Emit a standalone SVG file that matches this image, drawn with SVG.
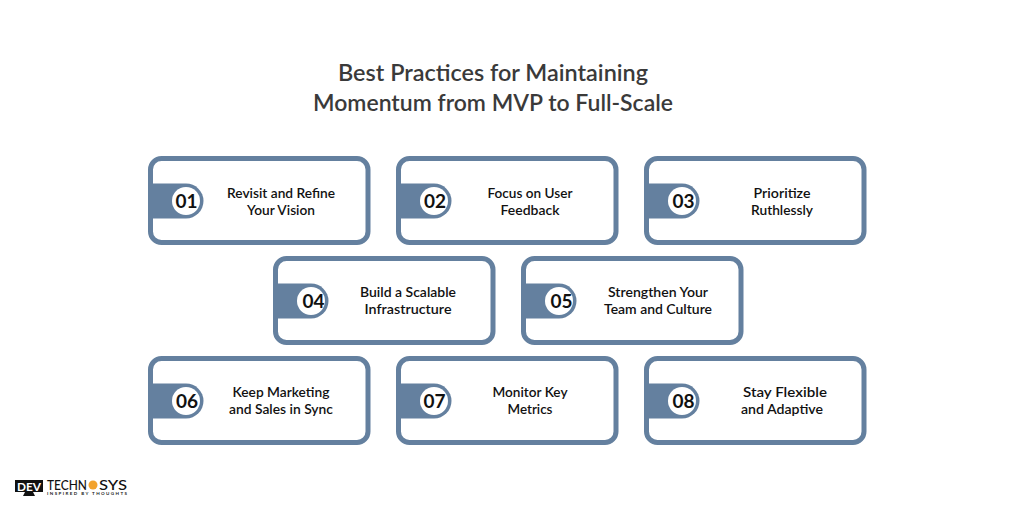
<svg xmlns="http://www.w3.org/2000/svg" width="1014" height="507" viewBox="0 0 1014 507">
<style>
text{font-family:"Lato","Liberation Sans",sans-serif}
.title{font-size:23.5px;font-weight:600;fill:#3a3a3a;text-anchor:middle}
.lab{font-size:13.5px;font-weight:600;fill:#111;text-anchor:middle}
.num{font-size:19px;font-weight:700;fill:#111;text-anchor:middle}
.box{fill:#fff;stroke:#64809f;stroke-width:5}
.tab{fill:#64809f}
.hole{fill:#fff}
</style>
<defs>
<g id="card">
<rect class="box" x="2.500" y="2.500" width="217.500" height="84" rx="11"/>
<path class="tab" d="M2 27.500H38a17.500 17.500 0 0 1 0 35H2Z"/>
<circle class="hole" cx="38" cy="45" r="14"/>
</g>
</defs>
<rect width="1014" height="507" fill="#fff"/>
<text class="title" x="493" y="81" textLength="310" lengthAdjust="spacingAndGlyphs">Best Practices for Maintaining</text>
<text class="title" x="493" y="111" textLength="360" lengthAdjust="spacingAndGlyphs">Momentum from MVP to Full-Scale</text>
<g id="connectors"/>
<g id="n1"><use href="#card" x="148" y="156"/><text class="num" x="186.500" y="208">01</text><text class="lab" x="281" y="198" textLength="108" lengthAdjust="spacingAndGlyphs">Revisit and Refine</text><text class="lab" x="281" y="215" textLength="68" lengthAdjust="spacingAndGlyphs">Your Vision</text></g>
<g id="n2"><use href="#card" x="396" y="156"/><text class="num" x="435" y="208">02</text><text class="lab" x="530" y="198" textLength="85" lengthAdjust="spacingAndGlyphs">Focus on User</text><text class="lab" x="530" y="215" textLength="59" lengthAdjust="spacingAndGlyphs">Feedback</text></g>
<g id="n3"><use href="#card" x="644" y="156"/><text class="num" x="683.500" y="208">03</text><text class="lab" x="782" y="198" textLength="57" lengthAdjust="spacingAndGlyphs">Prioritize</text><text class="lab" x="782" y="215" textLength="62" lengthAdjust="spacingAndGlyphs">Ruthlessly</text></g>
<g id="n4"><use href="#card" x="273" y="256"/><text class="num" x="313.500" y="308">04</text><text class="lab" x="408" y="297" textLength="96" lengthAdjust="spacingAndGlyphs">Build a Scalable</text><text class="lab" x="408" y="314" textLength="87" lengthAdjust="spacingAndGlyphs">Infrastructure</text></g>
<g id="n5"><use href="#card" x="521" y="256"/><text class="num" x="561.500" y="308">05</text><text class="lab" x="658" y="297" textLength="100" lengthAdjust="spacingAndGlyphs">Strengthen Your</text><text class="lab" x="658" y="314" textLength="108" lengthAdjust="spacingAndGlyphs">Team and Culture</text></g>
<g id="n6"><use href="#card" x="148" y="356"/><text class="num" x="187" y="408">06</text><text class="lab" x="281" y="397" textLength="97" lengthAdjust="spacingAndGlyphs">Keep Marketing</text><text class="lab" x="281" y="414" textLength="104" lengthAdjust="spacingAndGlyphs">and Sales in Sync</text></g>
<g id="n7"><use href="#card" x="396" y="356"/><text class="num" x="434.500" y="408">07</text><text class="lab" x="530" y="397" textLength="75" lengthAdjust="spacingAndGlyphs">Monitor Key</text><text class="lab" x="530" y="414" textLength="45" lengthAdjust="spacingAndGlyphs">Metrics</text></g>
<g id="n8"><use href="#card" x="644" y="356"/><text class="num" x="683.500" y="408">08</text><text class="lab" x="785" y="397" textLength="84" lengthAdjust="spacingAndGlyphs">Stay Flexible</text><text class="lab" x="782" y="414" textLength="82" lengthAdjust="spacingAndGlyphs">and Adaptive</text></g>
<g id="logo">
<rect x="15" y="480" width="28" height="12" fill="#111"/>
<path d="M25 492h8l2 4H23Z" fill="#111"/>
<text x="29" y="490.500" font-size="11" font-weight="700" fill="#fff" text-anchor="middle" textLength="24" lengthAdjust="spacingAndGlyphs">DEV</text>
<text x="47" y="489.500" font-size="13" font-weight="500" fill="#111" textLength="40" lengthAdjust="spacingAndGlyphs">TECHN</text>
<circle cx="93" cy="485" r="4.500" fill="#f2a32c"/>
<text x="99" y="489.500" font-size="13" font-weight="500" fill="#111" textLength="28" lengthAdjust="spacingAndGlyphs">SYS</text>
<text x="47" y="495" font-size="4.500" font-weight="700" fill="#222" textLength="80" lengthAdjust="spacing">INSPIRED BY THOUGHTS</text>
</g>
</svg>
